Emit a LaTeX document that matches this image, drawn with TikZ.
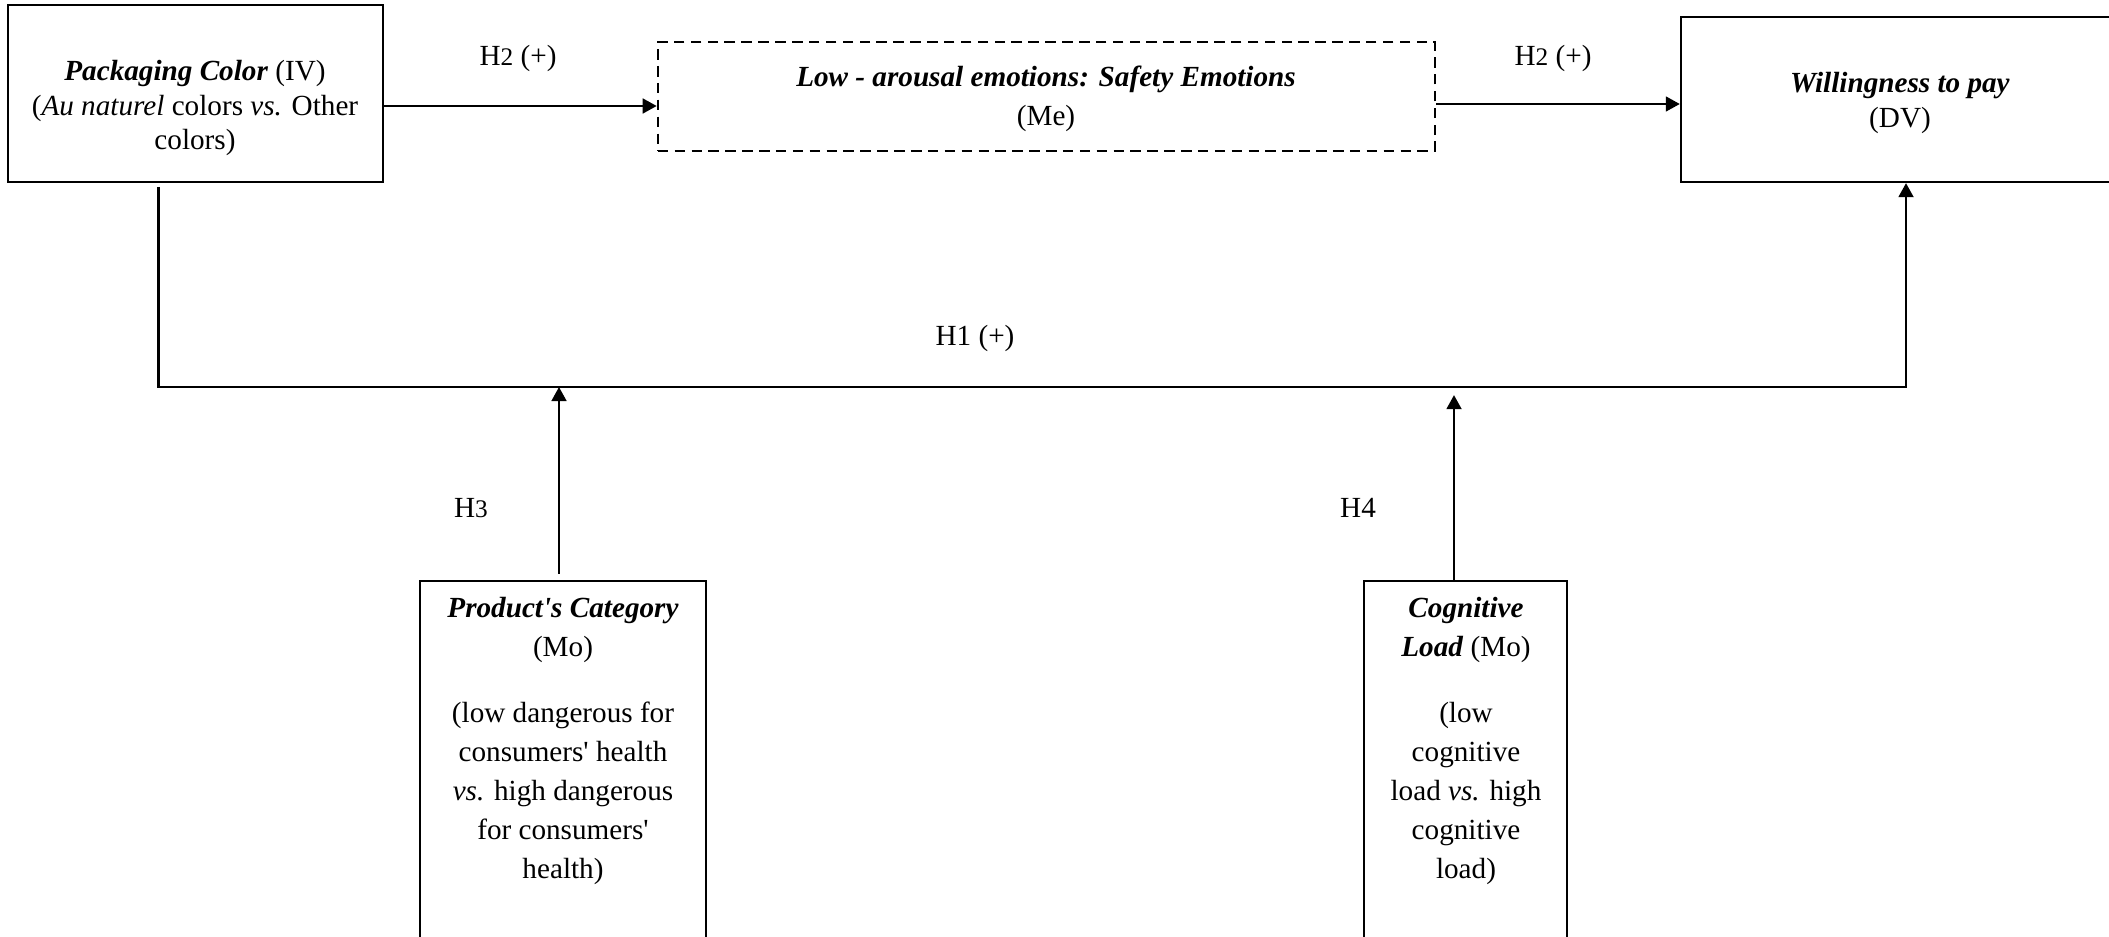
\documentclass[tikz,border=0pt]{standalone}
\usepackage{fontspec}
\setmainfont{Liberation Serif}
\usetikzlibrary{arrows.meta}
\newcommand{\bi}[1]{\textbf{\textit{#1}}}
\newcommand{\hsub}[1]{{\fontsize{7.2}{8}\selectfont #1}}
\newcommand{\apos}{\textquotesingle}
\begin{document}
\begin{tikzpicture}[x=0.01cm,y=-0.01cm,
  every node/.style={font=\fontsize{8.3}{11.1}\selectfont},
  box/.style={draw,line width=0.6pt,inner sep=0pt},
  dbox/.style={box,dash pattern=on 3pt off 1.8pt},
  txt/.style={align=center,inner sep=0pt},
  tight/.style={font=\fontsize{8.3}{9.7}\selectfont},
  lbl/.style={inner sep=0pt},
  link/.style={line width=0.7pt},
  arr/.style={link,-{Triangle[length=4pt,width=4.2pt]}}]
\useasboundingbox (0,0) rectangle (2109,937);

% boxes
\node[box,minimum width=3.75cm,minimum height=1.77cm] (pc) at (195.5,93.5) {};
\node[dbox,minimum width=7.77cm,minimum height=1.09cm] (se) at (1046.5,96.5) {};
\node[box,minimum width=4.39cm,minimum height=1.65cm] (wtp) at (1900.5,99.5) {};
\node[box,minimum width=2.86cm,minimum height=3.79cm] (cat) at (563,770.5) {};
\node[box,minimum width=2.03cm,minimum height=3.79cm] (cog) at (1465.5,770.5) {};

% box texts
\node[txt,tight] (pct) at (195,108) {\bi{Packaging Color} (IV)\\(\textit{Au naturel} colors \textit{vs.} Other\\colors)};
\node[txt] (set) at (1046,99) {\bi{Low - arousal emotions: Safety Emotions}\\(Me)};
\node[txt,tight] (wtpt) at (1900,103) {\bi{Willingness to pay}\\(DV)};
\node[txt,anchor=north] (catt) at (563,597) {\bi{Product\apos s Category}\\(Mo)\\[7.4pt](low dangerous for\\consumers\apos{} health\\\textit{vs.} high dangerous\\for consumers\apos\\health)};
\node[txt,anchor=north] (cogt) at (1466,597) {\bi{Cognitive}\\\bi{Load} (Mo)\\[7.4pt](low\\cognitive\\load \textit{vs.} high\\cognitive\\load)};

% hypothesis labels
\node[lbl] (h2a) at (518,58) {H\hsub{2} (+)};
\node[lbl] (h2b) at (1553,58) {H\hsub{2} (+)};
\node[lbl] (h1) at (975,338) {H1 (+)};
\node[lbl] (h3) at (471,508) {H\hsub{3}};
\node[lbl] (h4) at (1358,508) {H4};

% path corners of the direct effect
\coordinate (h1l) at (158.5,387);
\coordinate (h1r) at (1906,387);

% connectors
\draw[arr] (pc.east |- 0,106) -- (se.west |- 0,106);
\draw[arr] (se.east |- 0,104) -- (wtp.west |- 0,104);
\draw[arr] ([yshift=-1.1pt]pc.south -| h1l) -- (h1l) -- (h1r) -- (wtp.south -| h1r);
\draw[arr] ([yshift=1.7pt]cat.north -| 559,0) -- (h1l -| 559,0);
\draw[arr] (cog.north -| 1454,0) -- ([yshift=-2.3pt]h1r -| 1454,0);
\end{tikzpicture}
\end{document}
